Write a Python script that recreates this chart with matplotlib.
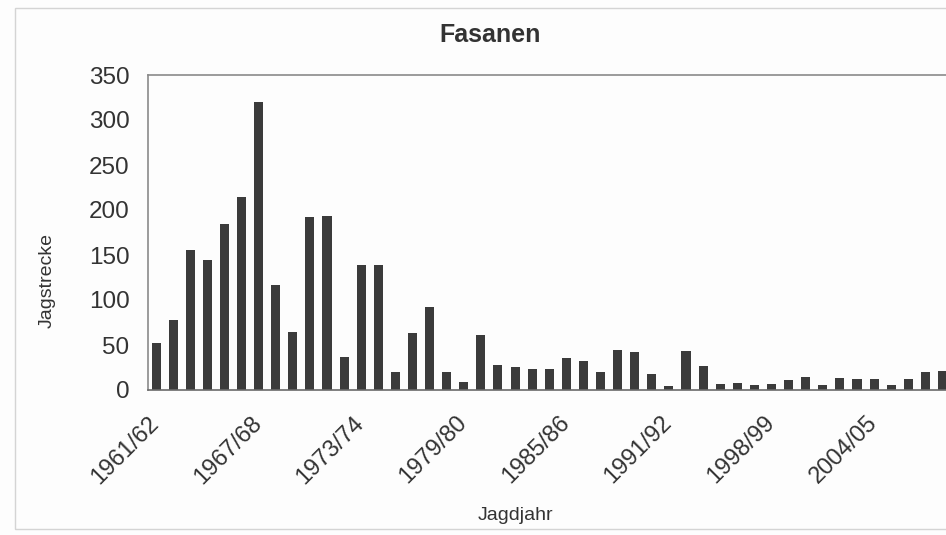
import matplotlib
matplotlib.use("Agg")
import matplotlib.pyplot as plt
from matplotlib.patches import Rectangle
from matplotlib.transforms import ScaledTranslation

plt.rcParams['font.family'] = ['Liberation Sans', 'DejaVu Sans']

# ---- DATA ----
seasons = [
    "1961/62", "1962/63", "1963/64", "1964/65", "1965/66", "1966/67",
    "1967/68", "1968/69", "1969/70", "1970/71", "1971/72", "1972/73",
    "1973/74", "1974/75", "1975/76", "1976/77", "1977/78", "1978/79",
    "1979/80", "1980/81", "1981/82", "1982/83", "1983/84", "1984/85",
    "1985/86", "1986/87", "1987/88", "1988/89", "1989/90", "1990/91",
    "1991/92", "1993/94", "1994/95", "1995/96", "1996/97", "1997/98",
    "1998/99", "1999/00", "2000/01", "2001/02", "2002/03", "2003/04",
    "2004/05", "2005/06", "2006/07", "2007/08", "2008/09",
]
strecke = [
    52, 78, 156, 144, 184, 215, 320, 117, 64, 192, 193, 37,
    139, 139, 20, 63, 92, 20, 9, 61, 28, 26, 23, 23,
    36, 32, 20, 45, 42, 18, 4, 43, 27, 7, 8, 6,
    7, 11, 15, 6, 13, 12, 12, 6, 12, 20, 21,
]
shown_labels = ["1961/62", "1967/68", "1973/74", "1979/80",
                "1985/86", "1991/92", "1998/99", "2004/05"]

W, H = 946, 535
fig = plt.figure(figsize=(W / 100, H / 100), dpi=100)
fig.patch.set_facecolor("#fdfdfd")

# faint chart-area frame from the original spreadsheet
fig.patches.append(Rectangle((15 / W, 6 / H), 1.0, 1 - 14 / H,
                             transform=fig.transFigure, fill=False,
                             edgecolor="#d4d4d4", linewidth=1.0))

ax = fig.add_axes([147.5 / W, 1 - 390 / H, (951 - 147.5) / W, 315 / H])
ax.set_facecolor("#fdfdfd")

x = list(range(len(seasons)))
ax.bar(x, strecke, width=0.53, color="#3b3b3b")

ax.set_xlim(-0.5, len(seasons) - 0.5)
ax.set_ylim(0, 350)
ax.set_yticks(range(0, 351, 50))

# x labels: drawn by hand so they can sit down-left of the tick like Excel
pos = [seasons.index(s) for s in shown_labels]
ax.set_xticks(pos)
ax.set_xticklabels([])
lab_tr = ax.get_xaxis_transform() + ScaledTranslation(-0.08, -0.22, fig.dpi_scale_trans)
for p, s in zip(pos, shown_labels):
    ax.text(p, 0, s, transform=lab_tr, rotation=45, ha="right", va="top",
            rotation_mode="anchor", fontsize=17, color="#333333", clip_on=False)

for lab in ax.get_yticklabels():
    lab.set_fontsize(17.5)
    lab.set_color("#333333")
ax.tick_params(axis="y", length=0, pad=13)
ax.tick_params(axis="x", length=0)

for side in ["top", "left"]:
    ax.spines[side].set_color("#8a8a8a")
    ax.spines[side].set_linewidth(1.2)
ax.spines["bottom"].set_color("#6a6a6a")
ax.spines["bottom"].set_linewidth(1.2)
ax.spines["right"].set_visible(False)

fig.text(490 / W, 1 - 35 / H, "Fasanen", ha="center", va="center",
         fontsize=18, fontweight="bold", color="#333333")
fig.text(47 / W, 1 - 280 / H, "Jagstrecke", ha="center", va="center",
         rotation=90, fontsize=14, color="#333333")
fig.text(516 / W, 1 - 515 / H, "Jagdjahr", ha="center", va="center",
         fontsize=14, color="#333333")

fig.savefig("out.png", dpi=100, facecolor=fig.get_facecolor())
